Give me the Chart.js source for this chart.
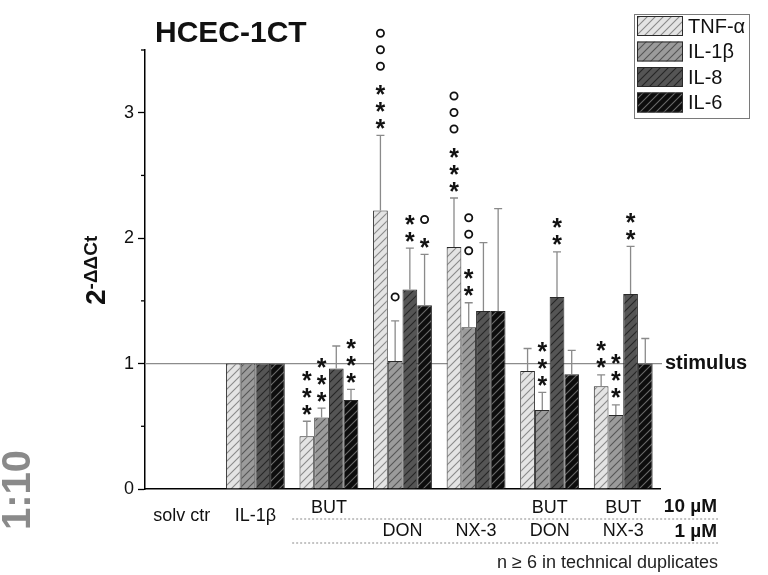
<!DOCTYPE html>
<html><head><meta charset="utf-8">
<script src="https://cdn.jsdelivr.net/npm/chart.js@4.4.1/dist/chart.umd.min.js"></script>
<style>html,body{margin:0;padding:0;background:#fff;overflow:hidden}canvas{display:block}</style>
</head><body>
<canvas id="c" width="768" height="575" style="width:768px;height:575px"></canvas>
<script>
// ---- data ----
const categories = ["solv ctr","IL-1β","BUT","DON","NX-3","BUT + DON","BUT + NX-3"];
const row10Labels = ["solv ctr","IL-1β","BUT","","","BUT","BUT"];
const row1Labels  = ["","","","DON","NX-3","DON","NX-3"];
const seriesNames = ["TNF-α","IL-1β","IL-8","IL-6"];
const tnfMean  = [0,1.00,0.42,2.22,1.93,0.94,0.82];
const tnfSD    = [0,0,0.12,0.60,0.39,0.18,0.09];
const il1bMean = [0,1.00,0.57,1.02,1.29,0.63,0.59];
const il1bSD   = [0,0,0.075,0.32,0.195,0.14,0.08];
const il8Mean  = [0,1.00,0.96,1.59,1.42,1.53,1.555];
const il8SD    = [0,0,0.18,0.33,0.545,0.36,0.38];
const il6Mean  = [0,1.00,0.71,1.465,1.42,0.915,1.00];
const il6SD    = [0,0,0.085,0.405,0.815,0.19,0.20];
const tnfStars  = [0,0,3,3,3,0,2]; const tnfCircles  = [0,0,0,3,3,0,0];
const il1bStars = [0,0,3,0,2,3,3]; const il1bCircles = [0,0,0,1,3,0,0];
const il8Stars  = [0,0,0,2,0,2,2]; const il8Circles  = [0,0,0,0,0,0,0];
const il6Stars  = [0,0,3,1,0,0,0]; const il6Circles  = [0,0,0,1,0,0,0];
const yTickLabels = ["0","1","2","3"];
const stimulusLevel = 1;

const means = [tnfMean, il1bMean, il8Mean, il6Mean];
const sds = [tnfSD, il1bSD, il8SD, il6SD];
const stars = [tnfStars, il1bStars, il8Stars, il6Stars];
const circles = [tnfCircles, il1bCircles, il8Circles, il6Circles];

const FONT = '"Liberation Sans", Arial, Helvetica, sans-serif';
const canvas = document.getElementById('c');
const mainCtx = canvas.getContext('2d');
function makePattern(bg, line){
  const c = document.createElement('canvas'); c.width = 8; c.height = 8;
  const g = c.getContext('2d');
  g.fillStyle = bg; g.fillRect(0,0,8,8);
  g.strokeStyle = line; g.lineWidth = 1.1;
  g.beginPath();
  g.moveTo(0,8); g.lineTo(8,0);
  g.moveTo(-2,2); g.lineTo(2,-2);
  g.moveTo(6,10); g.lineTo(10,6);
  g.stroke();
  return mainCtx.createPattern(c,'repeat');
}
const fills = [
  makePattern('#e4e4e4','#8a8a8a'),
  makePattern('#9b9b9b','#555555'),
  makePattern('#555555','#262626'),
  makePattern('#0d0d0d','#6a6a6a')
];

const deco = {
  id: 'deco',
  beforeDatasetsDraw(chart){
    const {ctx, chartArea:a, scales:{y}} = chart;
    const py = y.getPixelForValue(stimulusLevel);
    ctx.save();
    ctx.strokeStyle = '#8c8c8c'; ctx.lineWidth = 1.2;
    ctx.beginPath(); ctx.moveTo(a.left, py); ctx.lineTo(a.right + 2, py); ctx.stroke();
    ctx.restore();
  },
  afterDatasetsDraw(chart){
    const {ctx, scales:{y}} = chart;
    ctx.save();
    chart.data.datasets.forEach((ds, di) => {
      const meta = chart.getDatasetMeta(di);
      meta.data.forEach((el, i) => {
        const m = means[di][i], s = sds[di][i];
        let top = el.y;
        if (s > 0) {
          const yt = y.getPixelForValue(m + s);
          ctx.strokeStyle = '#8a8a8a'; ctx.lineWidth = 1.3;
          ctx.beginPath();
          ctx.moveTo(el.x, el.y); ctx.lineTo(el.x, yt);
          ctx.moveTo(el.x - 4, yt); ctx.lineTo(el.x + 4, yt);
          ctx.stroke();
          top = yt;
        }
        const ns = stars[di][i], nc = circles[di][i];
        let cy = top - 13;
        ctx.fillStyle = '#111';
        ctx.font = 'bold 25px ' + FONT;
        ctx.textAlign = 'center'; ctx.textBaseline = 'alphabetic';
        for (let k = 0; k < ns; k++) {
          ctx.fillText('*', el.x, cy + 14.5);
          if (k < ns - 1) cy -= 17;
        }
        if (nc > 0) {
          cy = ns > 0 ? cy - 22 : top - 24;
          ctx.strokeStyle = '#111'; ctx.lineWidth = 1.8;
          for (let k = 0; k < nc; k++) {
            ctx.beginPath(); ctx.arc(el.x, cy, 3.6, 0, Math.PI * 2); ctx.stroke();
            cy -= 16.5;
          }
        }
      });
    });
    ctx.restore();
  },
  afterDraw(chart){
    const {ctx, chartArea:a, scales:{x, y}} = chart;
    ctx.save();
    // minor ticks
    ctx.strokeStyle = '#000'; ctx.lineWidth = 1.3;
    y.ticks.forEach(t => {
      if (!Number.isInteger(t.value)) {
        const py = y.getPixelForValue(t.value);
        ctx.beginPath(); ctx.moveTo(a.left - 4, py); ctx.lineTo(a.left, py); ctx.stroke();
      }
    });
    // title
    ctx.fillStyle = '#111';
    ctx.font = 'bold 30px ' + FONT;
    ctx.textAlign = 'left'; ctx.textBaseline = 'alphabetic';
    ctx.fillText('HCEC-1CT', 155, 42);
    // y axis title
    ctx.save();
    ctx.translate(105, 305); ctx.rotate(-Math.PI / 2);
    ctx.font = 'bold 28px ' + FONT;
    ctx.fillText('2', 0, 0);
    const w2 = ctx.measureText('2').width;
    ctx.font = 'bold 19px ' + FONT;
    ctx.fillText('-ΔΔCt', w2, -8);
    ctx.restore();
    // 1:10
    ctx.save();
    ctx.translate(16, 490); ctx.rotate(-Math.PI / 2);
    ctx.fillStyle = '#8a8a8a';
    ctx.font = 'bold 40px ' + FONT;
    ctx.textAlign = 'center';
    ctx.fillText('1:10', 0, 14.3);
    ctx.restore();
    // category labels
    ctx.font = '18px ' + FONT;
    ctx.fillStyle = '#111';
    ctx.textAlign = 'center'; ctx.textBaseline = 'middle';
    categories.forEach((c, i) => {
      const px = x.getPixelForValue(i);
      if (row10Labels[i]) ctx.fillText(row10Labels[i], px, (i < 2 && !row1Labels[i]) ? 516 : 508);
      if (row1Labels[i]) ctx.fillText(row1Labels[i], px, 531);
    });
    // dotted lines
    const catW = x.getPixelForValue(1) - x.getPixelForValue(0);
    const x0 = x.getPixelForValue(2) - catW / 2;
    ctx.strokeStyle = '#8a8a8a'; ctx.lineWidth = 1; ctx.setLineDash([2, 2]);
    [519, 543].forEach(py => { ctx.beginPath(); ctx.moveTo(x0, py); ctx.lineTo(718, py); ctx.stroke(); });
    ctx.setLineDash([]);
    // concentration labels
    ctx.font = 'bold 19px ' + FONT;
    ctx.textAlign = 'right';
    ctx.fillText('10 µM', 717, 507);
    ctx.fillText('1 µM', 717, 532);
    // stimulus
    ctx.font = 'bold 20px ' + FONT;
    ctx.textAlign = 'left';
    ctx.fillText('stimulus', 665, y.getPixelForValue(stimulusLevel));
    // note
    ctx.font = '18px ' + FONT;
    ctx.fillStyle = '#222';
    ctx.textAlign = 'right';
    ctx.fillText('n ≥ 6 in technical duplicates', 718, 563);
    // legend
    ctx.strokeStyle = '#7a7a7a'; ctx.lineWidth = 1;
    ctx.strokeRect(634.5, 14.5, 115, 104);
    ctx.font = '20px ' + FONT;
    ctx.fillStyle = '#111';
    ctx.textAlign = 'left'; ctx.textBaseline = 'middle';
    chart.data.datasets.forEach((ds, i) => {
      const ty = 16 + i * 25.5;
      ctx.fillStyle = ds.backgroundColor;
      ctx.fillRect(637, ty, 46, 20);
      ctx.strokeStyle = '#2a2a2a';
      ctx.strokeRect(637.5, ty + 0.5, 45, 19);
      ctx.fillStyle = '#111';
      ctx.fillText(ds.label, 688, ty + 11);
    });
    ctx.restore();
  }
};

new Chart(canvas, {
  type: 'bar',
  data: {
    labels: categories,
    datasets: seriesNames.map((n, i) => ({
      label: n, data: means[i], backgroundColor: fills[i],
      borderColor: '#2a2a2a', borderWidth: 1,
      categoryPercentage: 0.8, barPercentage: 1.0
    }))
  },
  options: {
    responsive: false, animation: false,
    layout: { padding: { top: 50, right: 108, left: 0, bottom: 0 } },
    plugins: { legend: { display: false }, tooltip: { enabled: false }, title: { display: false } },
    scales: {
      x: {
        grid: { display: false },
        ticks: { display: false },
        border: { display: true, color: '#000', width: 1.5 },
        afterFit: s => { s.height = 86; }
      },
      y: {
        min: 0, max: 3.5,
        ticks: {
          stepSize: 0.5, padding: 4, color: '#111',
          font: { size: 18, family: FONT },
          callback: v => Number.isInteger(v) ? yTickLabels[v] : ''
        },
        grid: {
          drawOnChartArea: false, drawTicks: true, tickLength: 7, tickWidth: 1.3,
          tickColor: c => Number.isInteger(c.tick.value) ? '#000' : 'rgba(0,0,0,0)'
        },
        border: { display: true, color: '#000', width: 1.5 },
        afterFit: s => { s.width = 145; }
      }
    }
  },
  plugins: [deco]
});
</script>
</body></html>
